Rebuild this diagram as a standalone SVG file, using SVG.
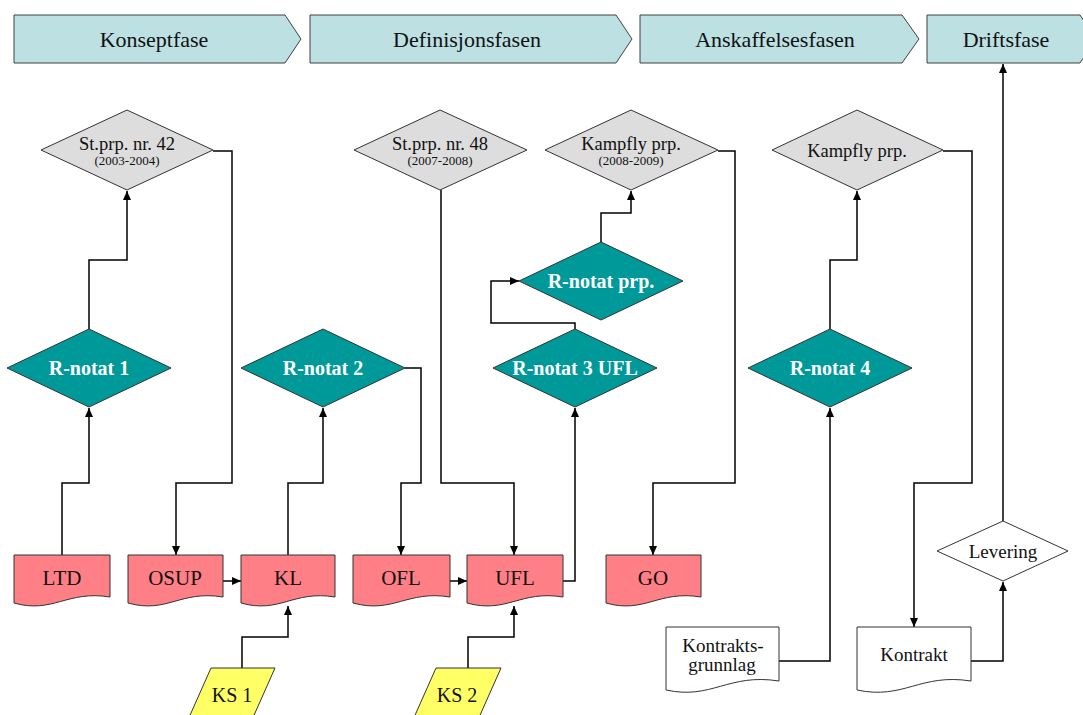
<svg xmlns="http://www.w3.org/2000/svg" width="1083" height="715" viewBox="0 0 1083 715">
  <style>
    .phase { fill: #BDE0E3; stroke: #404040; stroke-width: 1; }
    .gray { fill: #DDDDDD; stroke: #333333; stroke-width: 1; }
    .teal { fill: #009999; stroke: #333333; stroke-width: 1; }
    .doc { fill: #FF7F86; stroke: #333333; stroke-width: 1; }
    .wdoc { fill: #FFFFFF; stroke: #333333; stroke-width: 1; }
    .ks { fill: #FFFF66; stroke: #333333; stroke-width: 1; }
    .wdia { fill: #FFFFFF; stroke: #333333; stroke-width: 1; }
    text { font-family: "Liberation Serif", "Times New Roman", serif; fill: #111111; text-anchor: middle; }
    .ph { font-size: 22px; }
    .gt { font-size: 18.5px; }
    .gs { font-size: 13px; }
    .rt { font-size: 20px; font-weight: bold; fill: #FFFFFF; }
    .dt { font-size: 21px; }
    .kt { font-size: 20px; }
    .wt { font-size: 19px; }
    .conn path { fill: none; stroke: #000000; stroke-width: 1.5; }
  </style>
  <defs>
    <marker id="arrow" markerUnits="userSpaceOnUse" markerWidth="10" markerHeight="10" refX="9" refY="4" orient="auto">
      <path d="M0,0 L9,4 L0,8 Z" fill="#000000"/>
    </marker>
  </defs>
  <rect width="1083" height="715" fill="#FFFFFF"/>

  <!-- phase banners -->
  <g id="phase-konsept">
    <path class="phase" d="M14,15 H285 L301,39 L285,63 H14 Z"/>
    <text class="ph" x="154" y="47">Konseptfase</text>
  </g>
  <g id="phase-definisjon">
    <path class="phase" d="M310,15 H616 L632,39 L616,63 H310 Z"/>
    <text class="ph" x="467" y="47">Definisjonsfasen</text>
  </g>
  <g id="phase-anskaffelse">
    <path class="phase" d="M640,15 H902 L919,39 L902,63 H640 Z"/>
    <text class="ph" x="775" y="47">Anskaffelsesfasen</text>
  </g>
  <g id="phase-drift">
    <path class="phase" d="M927,15 H1080 L1096,39 L1080,63 H927 Z"/>
    <text class="ph" x="1006" y="47">Driftsfase</text>
  </g>

  <!-- connectors -->
  <g id="connectors" class="conn">
    <path d="M62,555 V483 H89 V408" marker-end="url(#arrow)"/>
    <path d="M89,329 V260 H127 V191" marker-end="url(#arrow)"/>
    <path d="M213,151 H232 V483 H176 V555" marker-end="url(#arrow)"/>
    <path d="M223,581 H241" marker-end="url(#arrow)"/>
    <path d="M288,555 V483 H323 V408" marker-end="url(#arrow)"/>
    <path d="M242,668 V637 H288 V606" marker-end="url(#arrow)"/>
    <path d="M405,368 H421 V483 H401 V555" marker-end="url(#arrow)"/>
    <path d="M441,190 V483 H514 V555" marker-end="url(#arrow)"/>
    <path d="M450,581 H467" marker-end="url(#arrow)"/>
    <path d="M468,668 V637 H514 V606" marker-end="url(#arrow)"/>
    <path d="M563,581 H575 V408" marker-end="url(#arrow)"/>
    <path d="M575,329 V323 H491 V281 H519" marker-end="url(#arrow)"/>
    <path d="M601,242 V213 H631 V191" marker-end="url(#arrow)"/>
    <path d="M718,151 H735 V483 H653 V555" marker-end="url(#arrow)"/>
    <path d="M779,661 H830 V408" marker-end="url(#arrow)"/>
    <path d="M830,329 V260 H857 V191" marker-end="url(#arrow)"/>
    <path d="M943,151 H972 V483 H914 V627" marker-end="url(#arrow)"/>
    <path d="M971,661 H1003 V582" marker-end="url(#arrow)"/>
    <path d="M1003,521 V64" marker-end="url(#arrow)"/>
  </g>

  <!-- proposition diamonds -->
  <g id="stprp-42">
    <path class="gray" d="M41,150 L127,110 L213,150 L127,190 Z"/>
    <text class="gt" x="127" y="150">St.prp. nr. 42</text>
    <text class="gs" x="127" y="165">(2003-2004)</text>
  </g>
  <g id="stprp-48">
    <path class="gray" d="M354,150 L440,110 L527,150 L440,190 Z"/>
    <text class="gt" x="440" y="150">St.prp. nr. 48</text>
    <text class="gs" x="440" y="165">(2007-2008)</text>
  </g>
  <g id="kampfly-prp-1">
    <path class="gray" d="M545,150 L631,110 L718,150 L631,190 Z"/>
    <text class="gt" x="631" y="150">Kampfly prp.</text>
    <text class="gs" x="631" y="165">(2008-2009)</text>
  </g>
  <g id="kampfly-prp-2">
    <path class="gray" d="M772,150 L857,110 L943,150 L857,190 Z"/>
    <text class="gt" x="857" y="157">Kampfly prp.</text>
  </g>

  <!-- R-notat diamonds -->
  <g id="rnotat-1">
    <path class="teal" d="M7,368 L89,329 L171,368 L89,407 Z"/>
    <text class="rt" x="89" y="375">R-notat 1</text>
  </g>
  <g id="rnotat-2">
    <path class="teal" d="M241,368 L323,329 L405,368 L323,407 Z"/>
    <text class="rt" x="323" y="375">R-notat 2</text>
  </g>
  <g id="rnotat-3-ufl">
    <path class="teal" d="M493,368 L575,329 L657,368 L575,407 Z"/>
    <text class="rt" x="575" y="375">R-notat 3 UFL</text>
  </g>
  <g id="rnotat-prp">
    <path class="teal" d="M519,281 L601,242 L683,281 L601,320 Z"/>
    <text class="rt" x="601" y="288">R-notat prp.</text>
  </g>
  <g id="rnotat-4">
    <path class="teal" d="M748,368 L830,329 L912,368 L830,407 Z"/>
    <text class="rt" x="830" y="375">R-notat 4</text>
  </g>

  <!-- document nodes -->
  <g id="doc-ltd">
    <path class="doc" d="M14,555 H110 V597 C67,590 53,614 14,603 Z"/>
    <text class="dt" x="62" y="585">LTD</text>
  </g>
  <g id="doc-osup">
    <path class="doc" d="M128,555 H223 V597 C180,590 167,614 128,603 Z"/>
    <text class="dt" x="175" y="585">OSUP</text>
  </g>
  <g id="doc-kl">
    <path class="doc" d="M241,555 H335 V597 C293,590 280,614 241,603 Z"/>
    <text class="dt" x="288" y="585">KL</text>
  </g>
  <g id="doc-ofl">
    <path class="doc" d="M353,555 H450 V597 C407,590 393,614 353,603 Z"/>
    <text class="dt" x="401" y="585">OFL</text>
  </g>
  <g id="doc-ufl">
    <path class="doc" d="M467,555 H563 V597 C520,590 507,614 467,603 Z"/>
    <text class="dt" x="515" y="585">UFL</text>
  </g>
  <g id="doc-go">
    <path class="doc" d="M606,555 H701 V597 C658,590 645,614 606,603 Z"/>
    <text class="dt" x="653" y="585">GO</text>
  </g>

  <!-- quality assurance inputs -->
  <g id="ks-1">
    <path class="ks" d="M211,668 H275 L251,722 H187 Z"/>
    <text class="kt" x="232" y="702">KS 1</text>
  </g>
  <g id="ks-2">
    <path class="ks" d="M436,668 H501 L477,722 H412 Z"/>
    <text class="kt" x="457" y="702">KS 2</text>
  </g>

  <!-- contract documents -->
  <g id="doc-kontraktsgrunnlag">
    <path class="wdoc" d="M666,627 H779 V681 C728,673 712,700 666,690 Z"/>
    <text class="wt" x="723" y="652">Kontrakts-</text>
    <text class="wt" x="722" y="671">grunnlag</text>
  </g>
  <g id="doc-kontrakt">
    <path class="wdoc" d="M857,627 H971 V681 C920,673 904,700 857,690 Z"/>
    <text class="wt" x="914" y="661">Kontrakt</text>
  </g>

  <!-- delivery -->
  <g id="levering">
    <path class="wdia" d="M937,551 L1003,521 L1068,551 L1003,581 Z"/>
    <text class="wt" x="1003" y="558">Levering</text>
  </g>
</svg>
